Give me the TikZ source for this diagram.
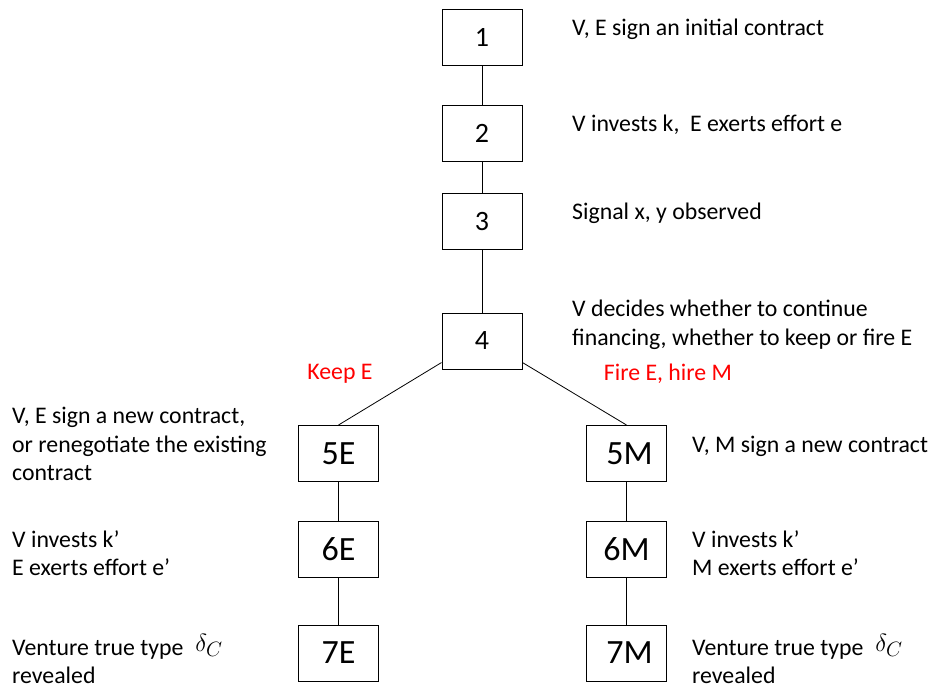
\documentclass[tikz,border=0pt]{standalone}
\usepackage{fontspec}
\setmainfont{Carlito}
\begin{document}
\begin{tikzpicture}[x=1pt, y=-1pt, every node/.style={inner sep=0pt},
    stage/.style={draw, line width=1pt, minimum width=80pt, minimum height=56pt, font=\fontsize{28}{28}\selectfont},
    stagebig/.style={stage, font=\fontsize{34}{34}\selectfont},
    note/.style={align=left, anchor=west, font=\fontsize{23.8}{28.5}\selectfont},
    choice/.style={text=red, font=\fontsize{23.8}{28.5}\selectfont}]
\useasboundingbox (0,0) rectangle (936,688);
    \node[stage] (s1) at (482,37) {1};
    \node[stage] (s2) at (482,133.5) {2};
    \node[stage] (s3) at (482,221.5) {3};
    \node[stage] (s4) at (482,341) {4};
    \node[stagebig] (s5e) at (338.5,453.5) {5E};
    \node[stagebig] (s6e) at (338.5,549.5) {6E};
    \node[stagebig] (s7e) at (338.5,653) {7E};
    \node[stagebig] (s5m) at (626.5,453.5) {\hspace{6pt}5M};
    \node[stagebig] (s6m) at (626.5,549.5) {6M};
    \node[stagebig] (s7m) at (626.5,653) {\hspace{6pt}7M};
\node[note] (t1) at (572,29) {V, E sign an initial contract};
\node[note] (t2) at (572,125) {V invests k,\ \ E exerts effort e};
\node[note] (t3) at (572,213) {Signal x, y observed};
\node[note] (t4) at (572,325) {V decides whether to continue\\financing, whether to keep or fire E};
\node[note] (t5e) at (12,444) {V, E sign a new contract,\\or renegotiate the existing\\contract};
\node[note] (t6e) at (12,553) {V invests k’\\E exerts effort e’};
\node[note] (t7e) at (12,659) {Venture true type\hspace{12pt}\raisebox{4pt}{\fontsize{28}{28}\selectfont$\delta_{C}$}\\revealed};
\node[note] (t5m) at (692,446) {V, M sign a new contract};
\node[note] (t6m) at (692,553) {V invests k’\\M exerts effort e’};
\node[note] (t7m) at (692,659) {Venture true type\hspace{12pt}\raisebox{4pt}{\fontsize{28}{28}\selectfont$\delta_{C}$}\\revealed};
\node[choice] (keep) at (340,374) {Keep E};
\node[choice] (fire) at (668,374) {Fire E, hire M};
    \foreach \from/\to in {s1/s2, s2/s3, s3/s4, s5e/s6e, s6e/s7e, s5m/s6m, s6m/s7m}
        \draw[line width=0.8pt] (\from) -- (\to);
\draw[line width=0.8pt] (s4.208) to (s5e.north);
\draw[line width=0.8pt] (s4.-28) to (s5m.north);
\end{tikzpicture}
\end{document}
